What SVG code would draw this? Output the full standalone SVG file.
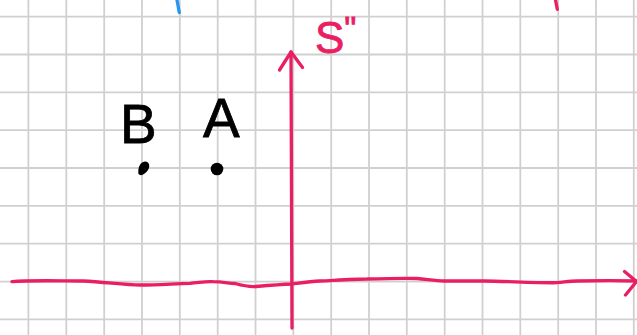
<svg xmlns="http://www.w3.org/2000/svg" width="637" height="335" viewBox="0 0 637 335">
<style>
.grid line{stroke:#d0d0d0;stroke-width:1.8}
.pink{stroke:#E91E63;stroke-width:3.3;fill:none;stroke-linecap:round;stroke-linejoin:round}
.lbl{font-family:"Liberation Sans",Arial,sans-serif}
</style>
<rect width="637" height="335" fill="#ffffff"/>
<g id="grid" class="grid">
<line x1="28.4" y1="0" x2="28.4" y2="335"/>
<line x1="66.3" y1="0" x2="66.3" y2="335"/>
<line x1="104.2" y1="0" x2="104.2" y2="335"/>
<line x1="142" y1="0" x2="142" y2="335"/>
<line x1="179.8" y1="0" x2="179.8" y2="335"/>
<line x1="217.7" y1="0" x2="217.7" y2="335"/>
<line x1="255.5" y1="0" x2="255.5" y2="335"/>
<line x1="293.3" y1="0" x2="293.3" y2="335"/>
<line x1="331.2" y1="0" x2="331.2" y2="335"/>
<line x1="369" y1="0" x2="369" y2="335"/>
<line x1="406.8" y1="0" x2="406.8" y2="335"/>
<line x1="444.7" y1="0" x2="444.7" y2="335"/>
<line x1="482.5" y1="0" x2="482.5" y2="335"/>
<line x1="520.3" y1="0" x2="520.3" y2="335"/>
<line x1="558.2" y1="0" x2="558.2" y2="335"/>
<line x1="596" y1="0" x2="596" y2="335"/>
<line x1="633.8" y1="0" x2="633.8" y2="335"/>
<line x1="0" y1="16.7" x2="637" y2="16.7"/>
<line x1="0" y1="54.5" x2="637" y2="54.5"/>
<line x1="0" y1="92.4" x2="637" y2="92.4"/>
<line x1="0" y1="130.2" x2="637" y2="130.2"/>
<line x1="0" y1="168" x2="637" y2="168"/>
<line x1="0" y1="205.9" x2="637" y2="205.9"/>
<line x1="0" y1="243.7" x2="637" y2="243.7"/>
<line x1="0" y1="281.6" x2="637" y2="281.6"/>
<line x1="0" y1="319.4" x2="637" y2="319.4"/>
</g>
<g id="connectors">
<path class="pink" d="M12,281.7 C30,280 60,281 83,281 C105,282 125,285 140,285 C160,285 175,283.5 190,283.3 C200,282.5 207,281 213,281.7 C222,282 228,283 235,283.5 C244,286 250,287 256,286.5 C268,285.5 280,284.5 292,284 C300,283 310,281.5 320,281 C340,280 355,279 367,279 C385,278.5 405,278 417,278.5 C428,279.5 436,281 444,281 C460,281 475,281 484,281 C510,281.5 540,283 557,282.7 C565,282 570,281 577,281 C600,280.5 620,280.5 636,281"/>
<path class="pink" d="M624.5,271.5 L636.5,281.5 L625.5,295"/>
<path class="pink" d="M291,52 C291.5,120 291.8,220 292,328"/>
<path class="pink" d="M279.5,70 L291,52 L302.5,67.5"/>
<path id="blue-mark" d="M177,0 L179.3,12.5" stroke="#2196F3" stroke-width="3.3" stroke-linecap="round" fill="none"/>
<path id="pink-mark" d="M555.5,0 L557.3,9.3" class="pink"/>
</g>
<g id="label-S">
<text class="lbl" x="315" y="53" font-size="44" fill="#E91E63" stroke="#E91E63" stroke-width="0.8">S<tspan dx="0" dy="-13" font-size="34">"</tspan></text>
</g>
<g id="node-B">
<text class="lbl" x="120" y="143" font-size="55" fill="#000" stroke="#000" stroke-width="0.8">B</text>
<path d="M138.5,174 C137.5,168 140,162 145,161.5 C150,161.5 150,167 148,170 C145.5,173.5 141,177 138.5,174 Z" fill="#000"/>
</g>
<g id="node-A">
<text class="lbl" x="203" y="137" font-size="55" fill="#000" stroke="#000" stroke-width="0.8">A</text>
<circle cx="217" cy="169" r="6.3" fill="#000"/>
</g>
</svg>
